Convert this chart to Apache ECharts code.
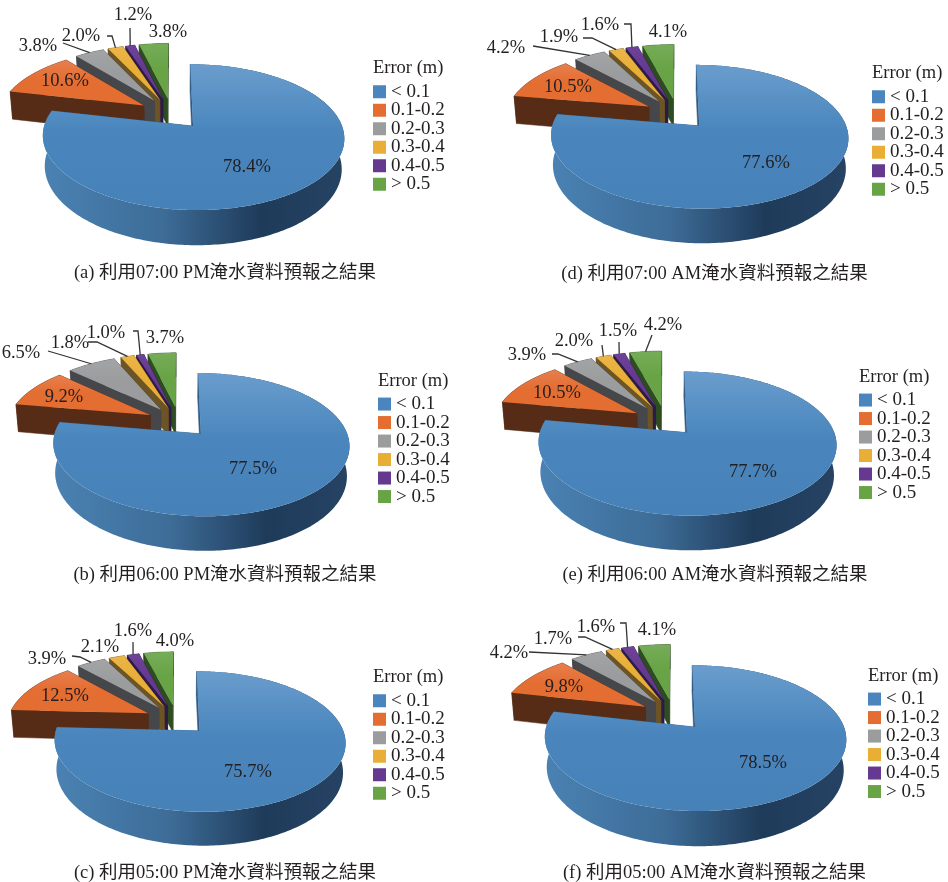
<!DOCTYPE html>
<html>
<head>
<meta charset="utf-8">
<style>html,body{margin:0;padding:0;background:#fff}#chart{width:948px;height:882px}</style>
<script src="https://cdn.jsdelivr.net/npm/echarts@6/dist/echarts.min.js"></script>
</head>
<body>
<div id="chart"></div>
<script>
// Error classes, in legend order
const categories = ['< 0.1', '0.1-0.2', '0.2-0.3', '0.3-0.4', '0.4-0.5', '> 0.5'];

// Share of forecasts per error class (%)
const pm0700 = [78.4, 10.6, 3.8, 2.0, 1.2, 3.8];
const pm0600 = [77.5, 9.2, 6.5, 1.8, 1.0, 3.7];
const pm0500 = [75.7, 12.5, 3.9, 2.1, 1.6, 4.0];
const am0700 = [77.6, 10.5, 4.2, 1.9, 1.6, 4.1];
const am0600 = [77.7, 10.5, 3.9, 2.0, 1.5, 4.2];
const am0500 = [78.5, 9.8, 4.2, 1.7, 1.6, 4.1];

const captions = [
  '(a) 利用07:00 PM淹水資料預報之結果',
  '(b) 利用06:00 PM淹水資料預報之結果',
  '(c) 利用05:00 PM淹水資料預報之結果',
  '(d) 利用07:00 AM淹水資料預報之結果',
  '(e) 利用06:00 AM淹水資料預報之結果',
  '(f) 利用05:00 AM淹水資料預報之結果'
];
const legendTitle = 'Error (m)';
const panelValues = [pm0700, pm0600, pm0500, am0700, am0600, am0500];

// Slice colours: top face, and the darker wall below it
const topColors  = ['#4a86bd', '#e46d31', '#9b9c9e', '#e8ae35', '#65398f', '#68a446'];
const topLight   = ['#6a9dcd', '#e77f4e', '#a3a4a6', '#ebb548', '#6e4299', '#76ac58'];
const wallColors = ['#2f5a84', '#572c16', '#45474a', '#6c5424', '#2c1a47', '#2e4c21'];

// Placement of each pie, its legend, caption, value labels and leader elbows
const layouts = [
  { cx: 171.7, cy: 113.6, scale: 1.000, legend: [373, 85], capX: 225, capY: 271,
    labels: [[247,167],[65,81],[38,46],[81,36],[133,15],[168,32]],
    leaders: { 2: [[63,43]], 3: [[107,36],[112,36]], 4: [[130,28]] } },
  { cx: 179.2, cy: 421.8, scale: 0.983, legend: [378, 397.3], capX: 225, capY: 573,
    labels: [[253,469],[64,397],[21,353],[70,343],[106,333],[165,338]],
    leaders: { 2: [[48,351]], 3: [[88,342],[97,342]], 4: [[133,331],[138,331]] } },
  { cx: 176.8, cy: 719.7, scale: 0.967, legend: [373, 694], capX: 225, capY: 871,
    labels: [[248,772],[65,696],[47,659],[100,647],[133,631],[175,641]],
    leaders: { 2: [[72,656],[80,657]], 4: [[133,642]] } },
  { cx: 677.4, cy: 113.8, scale: 0.987, legend: [872, 90], capX: 714.5, capY: 272,
    labels: [[766,163],[568,87],[506,48],[559,37],[600,25],[668,32]],
    leaders: { 2: [[533,46]], 3: [[583,38],[592,38]], 4: [[624,24],[631,24]] } },
  { cx: 665.3, cy: 420.5, scale: 0.989, legend: [859, 393.3], capX: 715, capY: 573,
    labels: [[753,472],[557,393],[527,355],[574,341],[618,331],[663,325]],
    leaders: { 2: [[552,354],[558,354]], 3: [[602,345]], 4: [[619,342]], 5: [[652,335]] } },
  { cx: 673.7, cy: 714.6, scale: 1.000, legend: [868, 692.3], capX: 714.5, capY: 871,
    labels: [[763,763],[564,687],[509,653],[553,639],[596,627],[657,630]],
    leaders: { 2: [[529,652]], 3: [[578,637],[585,637]], 4: [[620,623],[626,623]] } }
];

const LATIN = '"Liberation Serif","Times New Roman",serif';
const CAPTION_FONT = '"Liberation Serif","Noto Sans CJK TC",serif';
const TEXT = '#231f20';

// Tilted view of the pie: ground units (1 = pie radius), nearer points appear larger
const RX = 145, RY = 67.5, PERSPECTIVE = 0.148, EXPLODE = 0.23, DEPTH = 29, TAPER = 0.985;

function project(p, U, V) {
  const w = 1 - PERSPECTIVE * V;
  return {
    x: p.cx + RX * p.scale * U / w,
    y: p.cy + RY * p.scale * V / w,
    w
  };
}
const lower = (p, q) => [p.cx + (q.x - p.cx) * TAPER, q.y + DEPTH * p.scale / q.w];

function sliceGeometry(values, index) {
  const total = values.reduce((a, b) => a + b, 0);
  let before = 0;
  for (let i = 0; i < index; i++) before += values[i];
  const a0 = before / total * 2 * Math.PI;
  const a1 = (before + values[index]) / total * 2 * Math.PI;
  const mid = (a0 + a1) / 2;
  return { a0, a1, mid, ox: EXPLODE * Math.sin(mid), oy: -EXPLODE * Math.cos(mid) };
}

function sliceShape(panel, slice, value, api) {
  const p = layouts[panel];
  const g = sliceGeometry(panelValues[panel], slice);
  const rim = a => project(p, g.ox + Math.sin(a), g.oy - Math.cos(a));
  const apex = project(p, g.ox, g.oy);
  const n = Math.max(4, Math.ceil((g.a1 - g.a0) * 180 / Math.PI));
  const arc = [];
  for (let i = 0; i <= n; i++) arc.push(rim(g.a0 + (g.a1 - g.a0) * i / n));

  const children = [];
  const poly = (points, fill, z2) => children.push({
    type: 'polygon', shape: { points }, z2: z2 || 0,
    style: { fill, stroke: typeof fill === 'string' ? fill : null, lineWidth: typeof fill === 'string' ? 0.5 : 0 }
  });

  const apexLow = lower(p, apex);
  const startLow = lower(p, arc[0]);
  const endLow = lower(p, arc[n]);
  const wall = wallColors[slice];
  poly([[apex.x, apex.y], [arc[0].x, arc[0].y], startLow, apexLow], wall);
  poly([[apex.x, apex.y], [arc[n].x, arc[n].y], endLow, apexLow], wall);

  // Outer wall: lit from the left on the large slice
  const wallFill = slice === 0
    ? new echarts.graphic.LinearGradient(0, 0, 1, 0, [
        { offset: 0, color: '#4a82b3' },
        { offset: 0.4, color: '#3d6c97' },
        { offset: 0.72, color: '#1f3b5a' },
        { offset: 1, color: '#274364' }
      ])
    : wall;
  poly(arc.map(q => [q.x, q.y]).concat(arc.slice().reverse().map(q => lower(p, q))), wallFill);

  // Top face, brighter towards the far rim
  poly([[apex.x, apex.y]].concat(arc.map(q => [q.x, q.y])),
    new echarts.graphic.LinearGradient(0, 0, 0, 1, [
      { offset: 0, color: topLight[slice] },
      { offset: 0.45, color: topColors[slice] },
      { offset: 1, color: slice === 0 ? '#4682b8' : topColors[slice] }
    ]));

  // Leader from the label to the middle of the slice's rim
  const elbows = p.leaders[slice];
  if (elbows) {
    const end = rim(g.mid);
    children.push({
      type: 'polyline', z2: 20,
      shape: { points: elbows.concat([[end.x, end.y]]) },
      style: { stroke: '#333', lineWidth: 1.3, fill: null }
    });
  }

  const at = p.labels[slice];
  children.push({
    type: 'text', z2: 30, x: at[0], y: at[1],
    style: {
      text: value.toFixed(1) + '%', fill: TEXT, font: '18.5px ' + LATIN,
      align: 'center', verticalAlign: 'middle'
    }
  });
  return { type: 'group', children };
}

// Far slices first so that nearer slices cover them
const series = [];
panelValues.forEach((values, panel) => {
  for (let slice = categories.length - 1; slice >= 0; slice--) {
    series.push({
      type: 'custom',
      name: categories[slice],
      coordinateSystem: 'none',
      silent: true,
      animation: false,
      itemStyle: { color: topColors[slice] },
      data: [[values[slice]]],
      renderItem: (params, api) => sliceShape(panel, slice, api.value(0), api)
    });
  }
});

const titles = [];
captions.forEach((text, i) => {
  const p = layouts[i];
  titles.push({
    text, left: p.capX, top: p.capY - 7.5, textAlign: 'center', padding: 0,
    textStyle: { fontFamily: CAPTION_FONT, fontSize: 18.5, fontWeight: 'normal', color: TEXT }
  });
  titles.push({
    text: legendTitle, left: p.legend[0], top: p.legend[1] - 26, padding: 0,
    textStyle: { fontFamily: LATIN, fontSize: 18.5, fontWeight: 'normal', color: TEXT }
  });
});

const legends = layouts.map(p => ({
  data: categories,
  orient: 'vertical',
  left: p.legend[0],
  top: p.legend[1] - 2.75,
  padding: 0,
  icon: 'rect',
  itemWidth: 13,
  itemHeight: 13,
  itemGap: -0.5,
  selectedMode: false,
  textStyle: { fontFamily: LATIN, fontSize: 19, color: TEXT, lineHeight: 18.5, padding: [0, 0, 0, 0] }
}));

const chart = echarts.init(document.getElementById('chart'), null, { renderer: 'canvas' });
chart.setOption({
  backgroundColor: '#ffffff',
  animation: false,
  title: titles,
  legend: legends,
  series
});
</script>
</body>
</html>
